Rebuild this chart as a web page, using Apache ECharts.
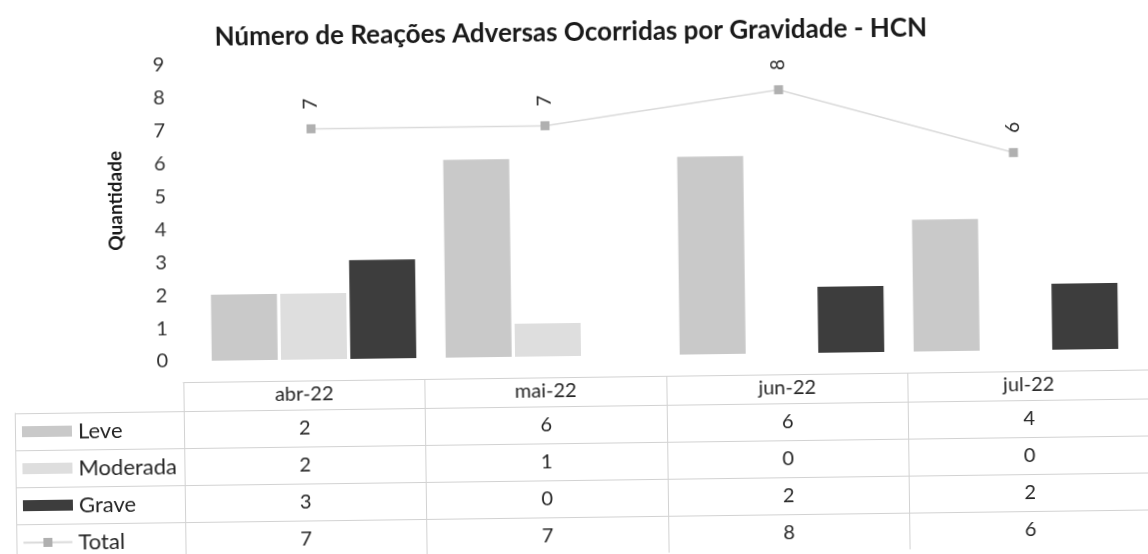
<!DOCTYPE html>
<html lang="pt">
<head>
<meta charset="utf-8">
<title>Número de Reações Adversas Ocorridas por Gravidade - HCN</title>
<script src="https://cdn.jsdelivr.net/npm/echarts@6/dist/echarts.min.js"></script>
<style>
  html, body { margin: 0; padding: 0; background: #ffffff; overflow: hidden; }
  #chart { width: 1148px; height: 554px; transform: rotate(-0.75deg); transform-origin: 50% 50%; }
</style>
</head>
<body>
<div id="chart"></div>
<script>
// Monthly adverse-reaction counts by severity
const categories = ['abr-22', 'mai-22', 'jun-22', 'jul-22'];
const leve = [2, 6, 6, 4];
const moderada = [2, 1, 0, 0];
const grave = [3, 0, 2, 2];
const total = [7, 7, 8, 6];

// Data-table rows (same order as the series)
const rowNames = ['Leve', 'Moderada', 'Grave', 'Total'];
const rowValues = [leve, moderada, grave, total];

// Value axis range
const yMin = 0;
const yMax = 9;
const yStep = 1;

const FONT = 'Lato, "Open Sans", "Noto Sans", sans-serif';
const TEXT = '#262626';
const GRID_LINE = '#d2d2d2';
const COLORS = { Leve: '#c9c9c9', Moderada: '#dedede', Grave: '#3d3d3d', line: '#dadada', marker: '#b0b0b0' };

// Cells of the data table: [column, row, value]
const cells = [];
rowValues.forEach((vals, r) => vals.forEach((v, c) => cells.push([c, r, v])));

const chart = echarts.init(document.getElementById('chart'), null, { renderer: 'canvas' });

chart.setOption({
  animation: false,
  backgroundColor: '#ffffff',
  textStyle: { fontFamily: FONT, color: TEXT },
  title: {
    text: 'Número de Reações Adversas Ocorridas por Gravidade - HCN',
    left: 'center',
    top: 15,
    textStyle: { fontFamily: FONT, fontSize: 26, fontWeight: 'bold', color: '#1a1a1a' }
  },
  grid: [
    { left: 196, right: 16, top: 59.5, height: 296.5 },   // bars + total line
    { left: 182, right: 0, top: 406, height: 148 }        // data table
  ],
  xAxis: [
    { type: 'category', gridIndex: 0, data: categories, show: false },
    {
      type: 'category', gridIndex: 1, data: categories, position: 'top',
      axisLine: { show: true, lineStyle: { color: GRID_LINE, width: 1 } },
      axisTick: { show: true, length: 29, lineStyle: { color: GRID_LINE, width: 1 } },
      axisLabel: { show: true, margin: 5, fontFamily: FONT, fontSize: 20, color: TEXT },
      splitLine: { show: true, lineStyle: { color: GRID_LINE, width: 1 } }
    },
    {
      type: 'category', gridIndex: 1, data: categories, position: 'top', offset: 29,
      axisLine: { show: true, lineStyle: { color: GRID_LINE, width: 1 } },
      axisTick: { show: false }, axisLabel: { show: false }, splitLine: { show: false }
    }
  ],
  yAxis: [
    {
      type: 'value', gridIndex: 0, min: yMin, max: yMax, interval: yStep,
      name: 'Quantidade', nameLocation: 'middle', nameGap: 70, nameRotate: 90,
      nameTextStyle: { fontFamily: FONT, fontSize: 19, fontWeight: 'bold', color: '#1a1a1a', padding: [0, 0, 0, 26] },
      axisLine: { show: false }, axisTick: { show: false }, splitLine: { show: false },
      axisLabel: { margin: 29, fontFamily: FONT, fontSize: 20, color: '#333333' }
    },
    {
      type: 'category', gridIndex: 1, data: rowNames, inverse: true, position: 'left',
      axisLine: { show: true, lineStyle: { color: GRID_LINE, width: 1 } },
      axisTick: { show: true, length: 169, lineStyle: { color: GRID_LINE, width: 1 } },
      splitLine: { show: true, lineStyle: { color: GRID_LINE, width: 1 } },
      axisLabel: {
        show: true, margin: 162, align: 'left', fontFamily: FONT, fontSize: 22, color: TEXT,
        formatter: name => name === 'Total'
          ? '{ln|}{sq|}{ln|}{gap|}{t|' + name + '}'
          : '{k' + name + '|}{gap|}{t|' + name + '}',
        rich: {
          kLeve: { width: 50, height: 11, backgroundColor: COLORS.Leve, verticalAlign: 'middle' },
          kModerada: { width: 50, height: 11, backgroundColor: COLORS.Moderada, verticalAlign: 'middle' },
          kGrave: { width: 50, height: 11, backgroundColor: COLORS.Grave, verticalAlign: 'middle' },
          ln: { width: 20, height: 2, backgroundColor: COLORS.line, verticalAlign: 'middle' },
          sq: { width: 9, height: 9, backgroundColor: COLORS.marker, verticalAlign: 'middle' },
          gap: { width: 6, height: 2, verticalAlign: 'middle' },
          t: { fontFamily: FONT, fontSize: 22, color: TEXT, verticalAlign: 'middle' }
        }
      }
    },
    {
      type: 'category', gridIndex: 1, data: rowNames, inverse: true, position: 'left', offset: 169,
      axisLine: { show: true, lineStyle: { color: GRID_LINE, width: 1 } },
      axisTick: { show: false }, axisLabel: { show: false }, splitLine: { show: false }
    }
  ],
  series: [
    {
      name: 'Leve', type: 'bar', xAxisIndex: 0, yAxisIndex: 0, data: leve,
      barWidth: 66, barGap: '5%', itemStyle: { color: COLORS.Leve }
    },
    {
      name: 'Moderada', type: 'bar', xAxisIndex: 0, yAxisIndex: 0, data: moderada,
      barWidth: 66, barGap: '5%', itemStyle: { color: COLORS.Moderada }
    },
    {
      name: 'Grave', type: 'bar', xAxisIndex: 0, yAxisIndex: 0, data: grave,
      barWidth: 66, barGap: '5%', itemStyle: { color: COLORS.Grave }
    },
    {
      name: 'Total', type: 'line', xAxisIndex: 0, yAxisIndex: 0, data: total,
      symbol: 'rect', symbolSize: 9, z: 5,
      itemStyle: { color: COLORS.marker },
      lineStyle: { color: COLORS.line, width: 1.5 },
      label: {
        show: true, position: 'top', distance: 15, rotate: 90,
        align: 'left', verticalAlign: 'middle',
        fontFamily: FONT, fontSize: 19, color: TEXT
      }
    },
    {
      // values written into the table cells
      name: 'tabela', type: 'custom', xAxisIndex: 1, yAxisIndex: 1, data: cells,
      silent: true,
      renderItem: (params, api) => {
        const p = api.coord([api.value(0), api.value(1)]);
        return {
          type: 'text', x: p[0], y: p[1],
          style: {
            text: String(api.value(2)), align: 'center', verticalAlign: 'middle',
            fill: TEXT, fontFamily: FONT, fontSize: 20
          }
        };
      }
    }
  ]
});
</script>
</body>
</html>
